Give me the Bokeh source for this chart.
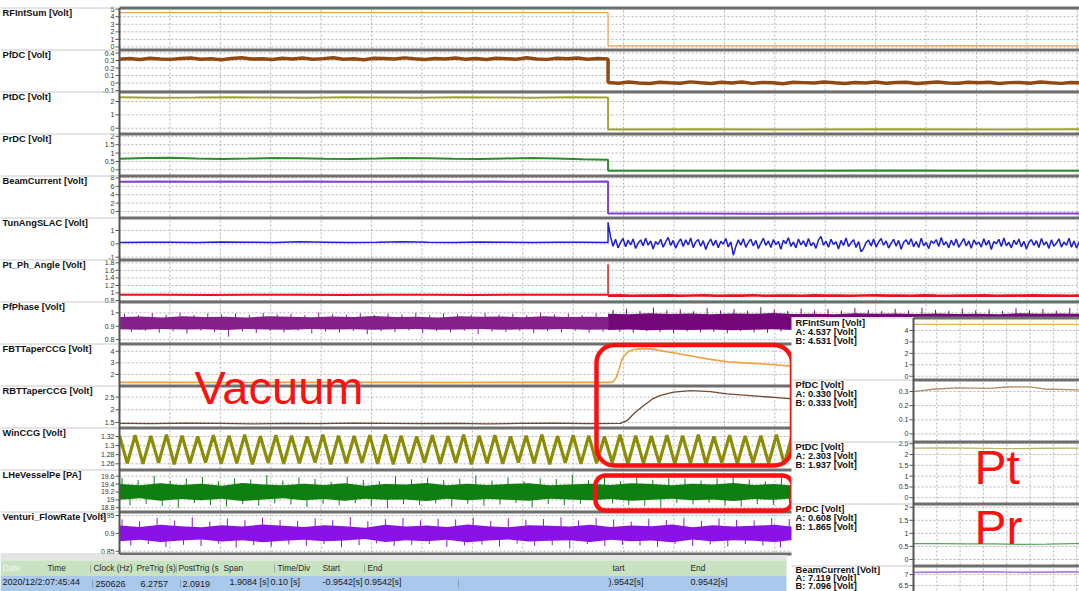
import numpy as np
from bokeh.plotting import figure
from bokeh.models import Range1d
from bokeh.core.properties import value
from bokeh.embed import file_html
from bokeh.resources import INLINE

# ---------------------------------------------------------------- capture
T0, T1 = -0.9542, 0.9542          # record window [s]
T_TRIP = 0.015                    # RF trip instant [s]
DIV = 0.10                        # time per division [s]

# ---------------------------------------------------------------- channels
ch_names = ["RFIntSum [Volt]", "PfDC [Volt]", "PtDC [Volt]", "PrDC [Volt]",
            "BeamCurrent [Volt]", "TunAngSLAC [Volt]", "Pt_Ph_Angle [Volt]",
            "PfPhase [Volt]", "FBTTaperCCG [Volt]", "RBTTaperCCG [Volt]",
            "WinCCG [Volt]", "LHeVesselPe [PA]", "Venturi_FlowRate [Volt]"]
ch_ticks = [[0, 1, 2, 3, 4, 5], [-0.1, 0, 0.1, 0.2, 0.3, 0.4], [0, 1, 2],
            [0, 0.5, 1, 1.5, 2], [0, 2, 4, 6, 8], [-1, 0, 1],
            [0.8, 1, 1.2, 1.4, 1.6, 1.8], [0.8, 0.9, 1], [2, 3, 4],
            [1.5, 2, 2.5], [1.26, 1.28, 1.3, 1.32],
            [18.8, 19, 19.2, 19.4, 19.6], [0.85, 0.9, 0.95]]
ch_span = [(-0.2, 4.95), (-0.1, 0.42), (-0.32, 2.6), (-0.28, 2.05), (-1.2, 8.1),
           (-1.1, 1.83), (0.8, 1.834), (0.778, 1.07), (1.14, 4.49), (1.34, 2.88),
           (1.2497, 1.3354), (18.73, 19.72), (0.8464, 0.9556)]

# ---------------------------------------------------------------- traces
rf_pre = [4.537, 4.534, 4.536, 4.531, 4.535, 4.533, 4.536, 4.534]
rf_post = [0.15, 0.14, 0.15, 0.16, 0.15]

pfdc_pre = [0.318, 0.326, 0.312, 0.330, 0.321, 0.315, 0.328, 0.334, 0.317, 0.322,
            0.311, 0.327, 0.336, 0.319, 0.324, 0.313, 0.329, 0.321, 0.332, 0.316,
            0.325, 0.338, 0.318, 0.323, 0.310, 0.331, 0.327, 0.319, 0.335, 0.322,
            0.314, 0.328, 0.320, 0.333, 0.317, 0.326, 0.312, 0.330, 0.324, 0.318,
            0.337, 0.321, 0.315, 0.329, 0.323, 0.332, 0.316, 0.327, 0.320]
pfdc_post = [0.006, -0.004, 0.012, 0.001, -0.008, 0.010, 0.003, -0.002, 0.015, 0.004,
             -0.006, 0.009, 0.000, 0.013, -0.005, 0.007, 0.002, -0.009, 0.011, 0.005,
             -0.001, 0.014, 0.003, -0.007, 0.008, 0.001, 0.012, -0.003, 0.006, 0.010,
             -0.006, 0.004, 0.013, 0.000, -0.004, 0.009, 0.002, 0.011, -0.008, 0.005,
             0.007, -0.002, 0.012, 0.003, -0.005, 0.008, 0.004]

ptdc_pre = [2.31, 2.29, 2.30, 2.32, 2.30, 2.28, 2.31, 2.30, 2.29, 2.31, 2.30, 2.29, 2.31, 2.30]
ptdc_post = [-0.09, -0.08, -0.10, -0.08, -0.09, -0.08]

prdc_pre = [0.66, 0.70, 0.72, 0.68, 0.65, 0.67, 0.70, 0.69, 0.66, 0.64,
            0.67, 0.71, 0.69, 0.66, 0.65, 0.68, 0.70, 0.67, 0.63, 0.60]
prdc_post = [-0.06, -0.05, -0.06, -0.04, -0.05, -0.06]

beam_pre = [7.10, 7.13, 7.08, 7.12, 7.10, 7.14, 7.09, 7.11, 7.13, 7.08, 7.12, 7.10, 7.11, 7.13]
beam_post = [-0.50, -0.47, -0.52, -0.49, -0.51, -0.48, -0.50]

tun_pre = [0.11, 0.13, 0.12, 0.10, 0.14, 0.12, 0.11, 0.15, 0.13, 0.10,
           0.12, 0.16, 0.13, 0.11, 0.14, 0.12, 0.10, 0.13, 0.12, 0.11]
tun_post = [1.62, 0.52, -0.18, 0.34, -0.30, 0.12, 0.40, -0.22, 0.28, -0.08, 0.36, -0.35, 0.05, 0.30, -0.15,
            0.42, -0.10, 0.22, -0.38, 0.18, -0.05, 0.35, -0.25, 0.15, 0.48, -0.12, 0.26, -0.32, 0.10, 0.38,
            -0.20, 0.30, -0.08, 0.44, -0.28, 0.14, 0.32, -0.18, 0.24, -0.42, 0.08, 0.36, -0.14, 0.28, -0.30,
            0.20, -0.02, 0.40, -0.24, 0.16, -0.85, -0.20, 0.30, -0.10, 0.38, -0.26, 0.12, 0.34, -0.16, 0.26,
            -0.36, 0.06, 0.42, -0.12, 0.22, -0.28, 0.32, -0.06, 0.18, -0.40, 0.28, 0.02, 0.46, -0.18, 0.14,
            -0.30, 0.36, -0.08, 0.24, -0.22, 0.40, -0.14, 0.10, -0.34, 0.30, 0.55, -0.10, 0.20, -0.26, 0.34,
            -0.04, 0.16, -0.38, 0.26, -0.12, 0.44, -0.20, 0.08, 0.32, -0.28, 0.18, -0.60, -0.35, 0.10, 0.28,
            -0.16, 0.36, -0.24, 0.14, 0.40, -0.10, 0.22, -0.32, 0.06, 0.34, -0.18, 0.26, -0.40, 0.12, 0.30,
            -0.06, 0.38, -0.22, 0.18, -0.28, 0.42, -0.14, 0.10, -0.36, 0.24, 0.04, 0.32, -0.20, 0.48, -0.08,
            0.16, -0.30, 0.28, -0.12, 0.36, -0.26, 0.08, 0.40, -0.16, 0.22, -0.34, 0.30, -0.04, 0.14, -0.24,
            0.38, -0.10, 0.26, -0.42, 0.18, 0.02, 0.34, -0.20, 0.44, -0.14, 0.12, -0.30, 0.28, -0.06, 0.36,
            -0.22, 0.20, -0.38, 0.10, 0.32, -0.12, 0.24, -0.28, 0.40, -0.08, 0.16, -0.34, 0.30, -0.18, 0.06,
            0.38, -0.24, 0.14, -0.10, 0.42, -0.26, 0.22, -0.32, 0.12, 0.34]

ptph_pre = [0.950, 0.952, 0.948, 0.951, 0.953, 0.949, 0.950, 0.952, 0.948, 0.951, 0.950, 0.952]
ptph_spike = 1.76
ptph_post = [0.930, 0.936, 0.925, 0.933, 0.928, 0.937, 0.924, 0.931, 0.935, 0.926,
             0.932, 0.929, 0.938, 0.925, 0.933, 0.930, 0.927, 0.936, 0.929, 0.934,
             0.924, 0.931, 0.937, 0.928, 0.933, 0.926, 0.935, 0.930, 0.927, 0.934,
             0.929, 0.936, 0.925, 0.932, 0.930, 0.937, 0.928, 0.933, 0.926, 0.931]

# PfPhase: dense envelope (upper / lower) before and after the trip, plus excursions
pfp_hi_pre = [0.968, 0.972, 0.965, 0.974, 0.969, 0.971, 0.966, 0.975, 0.970, 0.967, 0.973, 0.969,
              0.976, 0.968, 0.971, 0.966, 0.974, 0.970, 0.972, 0.967, 0.975, 0.969, 0.971, 0.968]
pfp_lo_pre = [0.878, 0.874, 0.880, 0.875, 0.877, 0.872, 0.879, 0.876, 0.874, 0.880, 0.875, 0.878,
              0.873, 0.877, 0.879, 0.874, 0.876, 0.880, 0.873, 0.877, 0.875, 0.879, 0.874, 0.876]
pfp_hi_post = [0.994, 0.990, 0.997, 0.992, 0.995, 0.989, 0.996, 0.993, 0.998, 0.991, 0.994, 0.990,
               0.997, 0.993, 0.995, 0.991, 0.996, 0.992, 0.994, 0.990, 0.997, 0.993, 0.995, 0.992]
pfp_lo_post = [0.872, 0.876, 0.870, 0.874, 0.871, 0.875, 0.869, 0.873, 0.877, 0.871, 0.874, 0.870,
               0.875, 0.872, 0.868, 0.874, 0.871, 0.876, 0.872, 0.869, 0.874, 0.871, 0.875, 0.873]
pfp_spk_pre = [0.992, 0.858, 0.984, 0.866, 0.998, 0.851, 0.987, 0.862, 1.001, 0.845, 0.983, 0.868, 0.995, 0.855,
               0.989, 0.822, 0.996, 0.860, 0.985, 0.849, 0.999, 0.864, 0.988, 0.853, 0.993, 0.867, 0.982, 0.846,
               1.003, 0.859, 0.990, 0.852, 0.986, 0.865, 0.997, 0.840, 0.984, 0.861, 0.994, 0.856, 0.988, 0.869,
               1.000, 0.850, 0.983, 0.863, 0.996, 0.854, 0.991, 0.866, 0.985, 0.843, 0.998, 0.860, 0.987, 0.857,
               0.993, 0.865, 0.982, 0.848, 1.002, 0.862, 0.989, 0.853, 0.995, 0.867, 0.984, 0.851, 0.997, 0.859]
pfp_spk_post = [1.022, 0.858, 1.031, 0.852, 1.015, 0.863, 1.040, 0.855, 1.019, 0.849, 1.027, 0.861, 1.012, 0.854,
                1.035, 0.858, 1.018, 0.847, 1.029, 0.862, 1.016, 0.853, 1.042, 0.851, 1.024, 0.860, 1.014, 0.852,
                1.033, 0.857, 1.020, 0.848, 1.028, 0.861, 1.017, 0.855, 1.036, 0.850, 1.021, 0.859, 1.013, 0.854,
                1.030, 0.862, 1.019, 0.849, 1.038, 0.856, 1.023, 0.853, 1.015, 0.860, 1.032, 0.851, 1.018, 0.858,
                1.026, 0.847, 1.014, 0.861, 1.034, 0.855, 1.020, 0.852, 1.029, 0.859, 1.016, 0.854, 1.037, 0.857]

fbt_pre = [1.32, 1.33, 1.31, 1.32, 1.33, 1.32, 1.31, 1.32, 1.33, 1.32]
fbt_rise_t = [0.026, 0.032, 0.036, 0.043, 0.053, 0.064, 0.076, 0.099, 0.119, 0.152, 0.185, 0.218,
              0.252, 0.285, 0.317, 0.350, 0.381]
fbt_rise_v = [1.40, 1.80, 2.34, 3.35, 3.91, 4.12, 4.20, 4.20, 4.05, 3.80, 3.55, 3.30,
              3.10, 3.00, 2.92, 2.82, 2.72]

rbt_pre = [1.46, 1.45, 1.47, 1.46, 1.44, 1.46, 1.45, 1.47, 1.46, 1.45, 1.46, 1.44, 1.46, 1.47, 1.45, 1.46]
rbt_rise_t = [0.053, 0.069, 0.086, 0.103, 0.119, 0.145, 0.179, 0.218, 0.251, 0.284, 0.317, 0.350, 0.380]
rbt_rise_v = [1.58, 1.90, 2.17, 2.43, 2.57, 2.70, 2.76, 2.72, 2.63, 2.58, 2.53, 2.48, 2.43]

win_peak = [1.322, 1.323, 1.321, 1.324, 1.322, 1.320, 1.323, 1.322, 1.324, 1.321, 1.323, 1.322, 1.320,
            1.324, 1.322, 1.321, 1.323, 1.324, 1.322, 1.320, 1.323, 1.321, 1.324, 1.322, 1.323, 1.320,
            1.322, 1.324, 1.321, 1.323, 1.322, 1.320, 1.324, 1.322, 1.321, 1.323, 1.322, 1.324, 1.320,
            1.323, 1.321, 1.322, 1.324, 1.323, 1.320, 1.322, 1.321, 1.324, 1.323, 1.322, 1.320, 1.323,
            1.322, 1.324, 1.321, 1.322, 1.323, 1.320, 1.324, 1.322, 1.321, 1.323]
win_trough = [1.261, 1.260, 1.262, 1.259, 1.261, 1.263, 1.260, 1.261, 1.259, 1.262, 1.260, 1.261, 1.263,
              1.259, 1.261, 1.262, 1.260, 1.259, 1.261, 1.263, 1.260, 1.262, 1.259, 1.261, 1.260, 1.263,
              1.261, 1.259, 1.262, 1.260, 1.261, 1.263, 1.259, 1.261, 1.262, 1.260, 1.261, 1.259, 1.263,
              1.260, 1.262, 1.261, 1.259, 1.260, 1.263, 1.261, 1.262, 1.259, 1.260, 1.261, 1.263, 1.260,
              1.261, 1.259, 1.262, 1.261, 1.260, 1.263, 1.259, 1.261, 1.262, 1.260]

lhe_hi = [19.40, 19.37, 19.42, 19.38, 19.41, 19.36, 19.43, 19.39, 19.37, 19.41, 19.38, 19.42,
          19.36, 19.40, 19.39, 19.43, 19.37, 19.41, 19.38, 19.40, 19.42, 19.37, 19.39, 19.41,
          19.38, 19.42, 19.40, 19.37, 19.41, 19.39, 19.43, 19.38, 19.40, 19.36, 19.41, 19.39,
          19.42, 19.37, 19.40, 19.38, 19.41, 19.39, 19.43, 19.37, 19.40, 19.38, 19.41, 19.39]
lhe_lo = [19.00, 19.04, 18.98, 19.02, 18.99, 19.03, 18.97, 19.01, 19.04, 18.99, 19.02, 18.98,
          19.03, 19.00, 19.01, 18.97, 19.03, 18.99, 19.02, 19.00, 18.98, 19.03, 19.01, 18.99,
          19.02, 18.98, 19.00, 19.03, 18.99, 19.01, 18.97, 19.02, 19.00, 19.04, 18.99, 19.01,
          18.98, 19.03, 19.00, 19.02, 18.99, 19.01, 18.97, 19.03, 19.00, 19.02, 18.99, 19.01]
lhe_spk = [19.56, 18.86, 19.50, 18.90, 19.61, 18.84, 19.48, 18.80, 19.54, 18.92, 19.58, 18.87, 19.47, 18.83,
           19.55, 18.89, 19.52, 18.85, 19.63, 18.91, 19.49, 18.88, 19.57, 18.82, 19.53, 18.90, 19.46, 18.86,
           19.59, 18.92, 19.51, 18.84, 19.48, 18.79, 19.60, 18.89, 19.52, 18.87, 19.56, 18.91, 19.50, 18.83,
           19.54, 18.90, 19.62, 18.85, 19.49, 18.88, 19.57, 18.92, 19.47, 18.81, 19.55, 18.89, 19.53, 18.86,
           19.64, 18.90, 19.50, 18.84, 19.56, 18.91, 19.48, 18.87, 19.58, 18.85, 19.51, 18.80, 19.57, 18.92,
           19.54, 18.88, 19.49, 18.93, 19.55, 18.86, 19.61, 18.83, 19.52, 18.89, 19.47, 18.87, 19.59, 18.91,
           19.53, 18.84, 19.50, 18.88, 19.56, 18.82, 19.48, 18.90, 19.62, 18.86, 19.54, 18.92, 19.51, 18.85,
           19.57, 18.89, 19.49, 18.83, 19.55, 18.91, 19.60, 18.87, 19.52, 18.84, 19.58, 18.90, 19.47, 18.86,
           19.53, 18.92, 19.56, 18.81, 19.50, 18.88, 19.59, 18.85]

ven_hi = [0.922, 0.918, 0.924, 0.920, 0.917, 0.923, 0.919, 0.925, 0.921, 0.918, 0.923, 0.920,
          0.916, 0.924, 0.919, 0.922, 0.918, 0.925, 0.920, 0.917, 0.923, 0.921, 0.919, 0.924,
          0.918, 0.922, 0.920, 0.925, 0.917, 0.923, 0.919, 0.921, 0.924, 0.918, 0.922, 0.920,
          0.916, 0.923, 0.919, 0.925, 0.921, 0.918, 0.922, 0.920, 0.924, 0.917, 0.921, 0.919]
ven_lo = [0.878, 0.882, 0.876, 0.880, 0.883, 0.877, 0.881, 0.875, 0.879, 0.882, 0.878, 0.880,
          0.884, 0.876, 0.881, 0.878, 0.882, 0.875, 0.880, 0.883, 0.877, 0.879, 0.881, 0.876,
          0.882, 0.878, 0.880, 0.875, 0.883, 0.877, 0.881, 0.879, 0.876, 0.882, 0.878, 0.880,
          0.884, 0.877, 0.881, 0.875, 0.879, 0.882, 0.878, 0.880, 0.876, 0.883, 0.879, 0.881]
ven_spk = [0.939, 0.866, 0.934, 0.870, 0.943, 0.862, 0.936, 0.868, 0.945, 0.864, 0.933, 0.871, 0.941, 0.860,
           0.937, 0.867, 0.944, 0.863, 0.938, 0.869, 0.935, 0.865, 0.942, 0.870, 0.937, 0.861, 0.946, 0.867,
           0.934, 0.872, 0.940, 0.864, 0.943, 0.868, 0.936, 0.870, 0.941, 0.862, 0.939, 0.866, 0.944, 0.869,
           0.935, 0.863, 0.942, 0.871, 0.938, 0.865, 0.940, 0.867, 0.945, 0.858, 0.936, 0.870, 0.943, 0.864,
           0.939, 0.868, 0.933, 0.866, 0.941, 0.862, 0.937, 0.871, 0.944, 0.865, 0.935, 0.869, 0.942, 0.863,
           0.938, 0.870, 0.936, 0.866, 0.943, 0.861, 0.940, 0.868, 0.945, 0.864, 0.934, 0.870, 0.939, 0.867,
           0.942, 0.863, 0.937, 0.869, 0.944, 0.865, 0.936, 0.871, 0.941, 0.862, 0.938, 0.868, 0.943, 0.866,
           0.935, 0.870, 0.940, 0.864, 0.946, 0.867, 0.937, 0.869, 0.942, 0.863, 0.939, 0.866]

# ---------------------------------------------------------------- zoom window (cursors A/B)
OZ0, OZ_DIV = -0.62, 0.02
ov_names = ["RFIntSum [Volt]", "PfDC [Volt]", "PtDC [Volt]", "PrDC [Volt]", "BeamCurrent [Volt]"]
ov_a = ["4.537", "0.330", "2.303", "0.608", "7.119"]
ov_b = ["4.531", "0.333", "1.937", "1.865", "7.096"]
ov_ticks = [[0, 1, 2, 3, 4], [0, 0.1, 0.2, 0.3], [0, 0.5, 1, 1.5, 2, 2.5],
            [0, 0.5, 1, 1.5, 2], [6.5, 7]]
ov_span = [(-0.2, 4.96), (-0.047, 0.371), (-0.22, 2.51), (-0.19, 2.065), (4.64, 7.32)]
ov_rf = [4.537, 4.536, 4.534, 4.533, 4.531]
ov_pf_t = [-0.620, -0.603, -0.583, -0.554, -0.540, -0.520, -0.508, -0.480, -0.460]
ov_pf_v = [0.300, 0.316, 0.326, 0.322, 0.332, 0.333, 0.318, 0.312, 0.312]
ov_pt = [2.30, 2.31, 2.30, 2.28, 2.27, 2.29, 2.30, 2.29]
ov_pr = [0.61, 0.61, 0.60, 0.60, 0.58, 0.59, 0.61, 0.62]
ov_bc = [7.10, 7.11, 7.12, 7.12, 7.10, 7.11, 7.12, 7.12]

# ---------------------------------------------------------------- status table
hdr_text = ["Time", "Clock (Hz)", "PreTrig (s)", "PostTrig (s", "Span", "Time/Div",
            "Start", "End", "tart", "End"]
hdr_x = [47, 93, 136, 178, 223, 277, 322, 367, 612, 690]
row_text = ["2020/12/2:07:45:44", "250626", "6.2757", "2.0919", "1.9084 [s]", "0.10 [s]",
            "-0.9542[s]", "0.9542[s]", ").9542[s]", "0.9542[s]"]
row_x = [2, 95, 140, 182, 229, 270, 322, 364, 608, 690]

# ================================================================= drawing
W, H = 1079, 591
SANS = value("Liberation Sans")
GRID = "#b4b4b4"
SEP = "#6e6e6e"

p = figure(width=W, height=H, x_range=Range1d(0, W), y_range=Range1d(H, 0),
           x_axis_type=None, y_axis_type=None, toolbar_location=None,
           output_backend="svg", min_border=0, outline_line_color=None,
           background_fill_color="white", border_fill_color="white")


def rng(a, b):
    return Range1d(start=a, end=b)


def fmt(v):
    return f"{v:g}"


def panel(lo, hi, sep_top, sep_bot, xs, xt):
    """Data mapping (time, value) and axis mapping (pixel, value) for one strip."""
    yt = (sep_bot - 1.5, sep_top + 1.5)
    data = p.subplot(x_source=rng(*xs), y_source=rng(lo, hi),
                     x_target=rng(*xt), y_target=rng(*yt))
    axis = p.subplot(x_source=rng(0, W), y_source=rng(lo, hi),
                     x_target=rng(0, W), y_target=rng(*yt))
    return data, axis


def strip_frame(data, axis, lo, hi, ticks, grid_t, xs, x_axis):
    data.segment(x0=grid_t, x1=grid_t, y0=lo, y1=hi, line_color=GRID,
                 line_dash="2 2", line_width=1)
    data.segment(x0=xs[0], x1=xs[1], y0=ticks, y1=ticks, line_color=GRID,
                 line_dash="2 2", line_width=1)
    axis.segment(x0=x_axis - 4, x1=x_axis, y0=ticks, y1=ticks, line_color="#555555",
                 line_width=1)
    axis.text(x=x_axis - 5, y=ticks, text=[fmt(v) for v in ticks], text_align="right",
              text_baseline="middle", text_font=SANS, text_font_size="7px",
              text_color="#333333")


def span_t(a, b, vals):
    return np.linspace(a, b, len(vals))


# ---- main record ------------------------------------------------------------
X0, X1 = 119, 1081
TOP, PITCH = 7.5, 42
seps = [TOP + PITCH * k for k in range(len(ch_names) + 1)]
grid_main = [T0 + DIV * k for k in range(1, 20)]

strips = []
for i, name in enumerate(ch_names):
    lo, hi = ch_span[i]
    d, a = panel(lo, hi, seps[i], seps[i + 1], (T0, T1), (X0, X1))
    strip_frame(d, a, lo, hi, ch_ticks[i], grid_main, (T0, T1), X0)
    p.text(x=2, y=seps[i] + 10, text=[name], text_font=SANS, text_font_size="9.3px",
           text_font_style="bold", text_color="#111111")
    strips.append(d)


def step_trace(d, pre, post, color, width, t_post_end=T1):
    t = np.concatenate([span_t(T0, T_TRIP, pre), span_t(T_TRIP, t_post_end, post)])
    d.line(t, list(pre) + list(post), line_color=color, line_width=width)


step_trace(strips[0], rf_pre, rf_post, "#e8a45e", 1.3)
step_trace(strips[1], pfdc_pre, pfdc_post, "#8f4a14", 3.5)
step_trace(strips[2], ptdc_pre, ptdc_post, "#a3a335", 2)
step_trace(strips[3], prdc_pre, prdc_post, "#2b8c2b", 2)
step_trace(strips[4], beam_pre, beam_post, "#8040d8", 2)
step_trace(strips[5], tun_pre, tun_post, "#1e1ed2", 1.5)

# Pt_Ph_Angle with the transient at the trip
d = strips[6]
d.line(span_t(T0, T_TRIP, ptph_pre), ptph_pre, line_color="#e31515", line_width=2)
d.segment(x0=T_TRIP, x1=T_TRIP, y0=ptph_pre[-1], y1=ptph_spike, line_color="#e31515", line_width=1.5)
d.line(span_t(T_TRIP, T1, ptph_post), ptph_post, line_color="#e31515", line_width=2.6)

# PfPhase envelope + excursions
d = strips[7]
PFP_PRE, PFP_POST = "#84208a", "#74087a"
d.varea(x=span_t(T0, T_TRIP, pfp_hi_pre), y1=pfp_lo_pre, y2=pfp_hi_pre, fill_color=PFP_PRE)
d.varea(x=span_t(T_TRIP, T1, pfp_hi_post), y1=pfp_lo_post, y2=pfp_hi_post, fill_color=PFP_POST)
ts = span_t(T0 + 0.01, T_TRIP - 0.01, pfp_spk_pre)
d.segment(x0=ts, x1=ts, y0=0.925, y1=pfp_spk_pre, line_color=PFP_PRE, line_width=1)
ts = span_t(T_TRIP + 0.01, T1 - 0.01, pfp_spk_post)
d.segment(x0=ts, x1=ts, y0=0.93, y1=pfp_spk_post, line_color=PFP_POST, line_width=1)

# taper gauges
d = strips[8]
d.line(list(span_t(T0, 0.02, fbt_pre)) + fbt_rise_t, fbt_pre + fbt_rise_v,
       line_color="#f2a13c", line_width=1.6)
d = strips[9]
d.line(list(span_t(T0, 0.04, rbt_pre)) + rbt_rise_t, rbt_pre + rbt_rise_v,
       line_color="#6e4a32", line_width=1.3)

# window gauge (triangle modulation)
win_vals = [v for pair in zip(win_peak, win_trough) for v in pair]
strips[10].line(span_t(T0, T1, win_vals), win_vals, line_color="#8c8c05", line_width=3.2)

# LHe vessel pressure
d = strips[11]
LHE = "#0f7f12"
d.varea(x=span_t(T0, T1, lhe_hi), y1=lhe_lo, y2=lhe_hi, fill_color=LHE)
ts = span_t(T0 + 0.005, T1 - 0.005, lhe_spk)
d.segment(x0=ts, x1=ts, y0=19.2, y1=lhe_spk, line_color=LHE, line_width=1)

# Venturi flow
d = strips[12]
VEN = "#8a12e6"
d.varea(x=span_t(T0, T1, ven_hi), y1=ven_lo, y2=ven_hi, fill_color=VEN)
ts = span_t(T0 + 0.005, T1 - 0.005, ven_spk)
d.segment(x0=ts, x1=ts, y0=0.90, y1=ven_spk, line_color=VEN, line_width=1)

# strip separators and frame
p.segment(x0=0, x1=X0, y0=seps, y1=seps, line_color="#c8c8c8", line_width=1)
p.segment(x0=X0, x1=W, y0=seps, y1=seps, line_color=SEP, line_width=3)
p.segment(x0=X0, x1=X0, y0=seps[0], y1=seps[-1], line_color="#555555", line_width=2)

# ---- highlighted regions --------------------------------------------------------
RED = "#ff1010"
p.quad(left=596, right=791.5, top=344.5, bottom=465, border_radius=18,
       fill_alpha=0, line_color=RED, line_width=4.5)
p.quad(left=595, right=792, top=475, bottom=510, border_radius=10,
       fill_alpha=0, line_color=RED, line_width=4.5)
p.text(x=194, y=413.5, text=["Vacuum"], text_font=SANS, text_font_size="47px", text_color=RED)

# ---- status table ---------------------------------------------------------------
p.quad(left=0, right=786, top=554.5, bottom=560, fill_color="#e4e4e4", line_color=None)
p.quad(left=0, right=786, top=560, bottom=575.5, fill_color="#c8e2c2", line_color=None)
p.quad(left=0, right=786, top=575.5, bottom=591, fill_color="#a9c8ec", line_color=None)
p.text(x=2, y=572, text=["Date"], text_font=SANS, text_font_size="8.6px", text_color="#f6f6f6")
p.text(x=hdr_x, y=572, text=hdr_text, text_font=SANS, text_font_size="8.4px", text_color="#2a2a2a")
p.text(x=row_x, y=586, text=row_text, text_font=SANS, text_font_size="9px", text_color="#1a1a1a")
p.segment(x0=[90, 176, 274, 364], x1=[90, 176, 274, 364], y0=564, y1=572,
          line_color="#9aa89a", line_width=1)
p.segment(x0=[92, 180, 267, 458], x1=[92, 180, 267, 458], y0=579, y1=587,
          line_color="#8a9ab0", line_width=1)

# ---- cursor zoom window ------------------------------------------------------------
OX0, OXP, OX1 = 791, 913, W
OTOP, OPITCH = 317.5, 62
p.quad(left=OX0, right=OX1, top=OTOP - 1, bottom=H, fill_color="white", line_color=None)
oseps = [OTOP + OPITCH * k for k in range(len(ov_names) + 1)]
OZ1 = OZ0 + 8 * OZ_DIV
ox_target = (OXP, OXP + 8 * 23.3)
grid_ov = [OZ0 + OZ_DIV * k for k in range(1, 8)]
ostrips = []
for i, name in enumerate(ov_names):
    lo, hi = ov_span[i]
    d, a = panel(lo, hi, oseps[i], oseps[i + 1], (OZ0, OZ1), ox_target)
    strip_frame(d, a, lo, hi, ov_ticks[i], grid_ov, (OZ0, OZ1), OXP)
    y0 = oseps[i]
    ys = [y0 + 10, y0 + 19, y0 + 28] if i < len(ov_names) - 1 else [y0 + 9, y0 + 17, y0 + 24.5]
    p.text(x=795, y=ys,
           text=[name, f"A: {ov_a[i]} [Volt]", f"B: {ov_b[i]} [Volt]"],
           text_font=SANS, text_font_size="9.3px", text_font_style="bold",
           text_color="#111111")
    ostrips.append(d)

ostrips[0].line(span_t(OZ0, OZ1, ov_rf), ov_rf, line_color="#f0ae5c", line_width=1.4)
ostrips[1].line(ov_pf_t, ov_pf_v, line_color="#b08a6a", line_width=1.3)
ostrips[2].line(span_t(OZ0, OZ1, ov_pt), ov_pt, line_color="#b5b56a", line_width=1.3)
ostrips[3].line(span_t(OZ0, OZ1, ov_pr), ov_pr, line_color="#5aa55a", line_width=1.3)
ostrips[4].line(span_t(OZ0, OZ1, ov_bc), ov_bc, line_color="#b07ee0", line_width=1.6)

p.segment(x0=OX0, x1=OXP, y0=oseps, y1=oseps, line_color="#c8c8c8", line_width=1)
p.segment(x0=OXP, x1=W, y0=oseps, y1=oseps, line_color=SEP, line_width=3)
p.segment(x0=OXP, x1=OXP, y0=oseps[0], y1=H, line_color="#555555", line_width=2)

p.text(x=[974, 974], y=[493, 553], text=["Pt", "Pr"], text_font=SANS,
       text_font_size="48px", text_color=RED)

open("out.html", "w").write(file_html(p, INLINE))
